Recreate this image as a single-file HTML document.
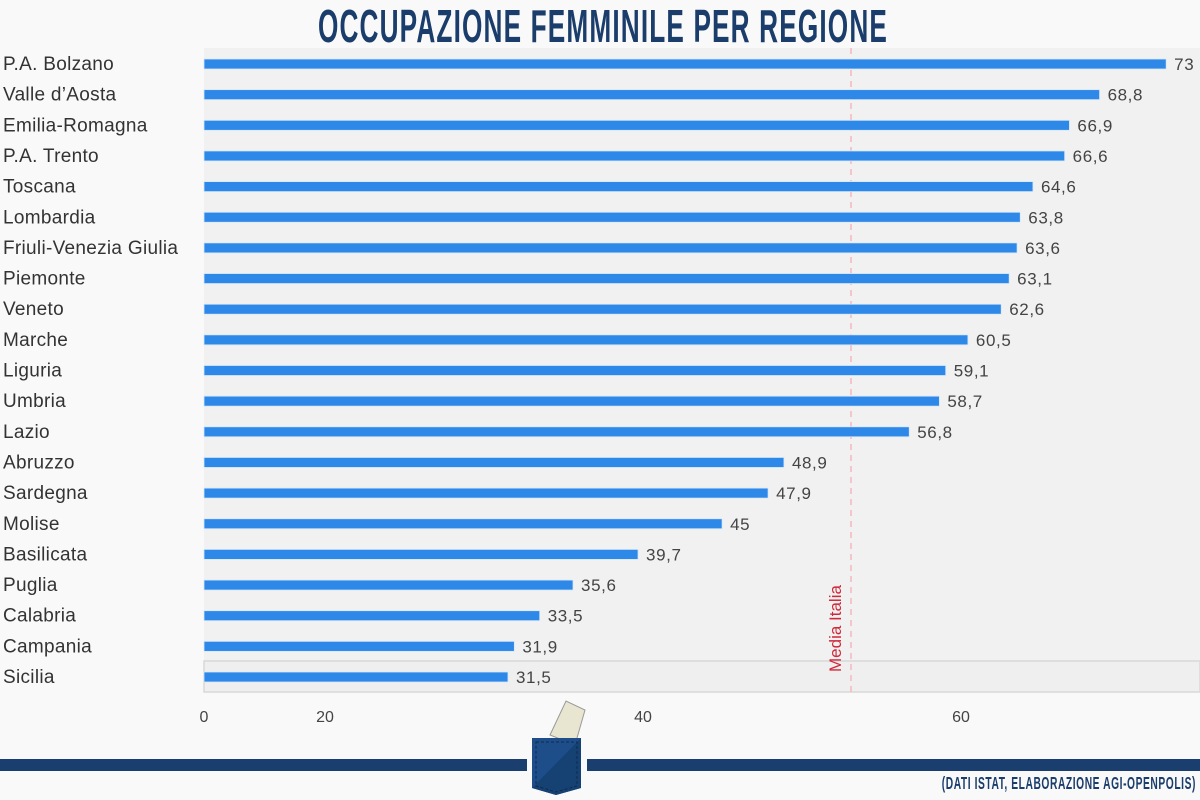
<!DOCTYPE html>
<html><head><meta charset="utf-8"><style>
html,body{margin:0;padding:0;background:#f9f9f9;width:1200px;height:800px;overflow:hidden}
svg text{font-family:"Liberation Sans",sans-serif}
</style></head><body>
<svg width="1200" height="800" xmlns="http://www.w3.org/2000/svg">
<rect width="1200" height="800" fill="#f9f9f9"/>
<text x="603" y="42" text-anchor="middle" font-size="46" font-weight="bold" fill="#1a3d6b" transform="translate(603 0) scale(0.57 1) translate(-603 0)" style="letter-spacing:2px">OCCUPAZIONE FEMMINILE PER REGIONE</text>
<rect x="204" y="48" width="996" height="644" fill="#f1f1f1"/>
<rect x="204" y="661" width="996" height="31" fill="#efefef" stroke="#d8d8d8" stroke-width="1.5"/>
<line x1="851" y1="48" x2="851" y2="692" stroke="#f5b8c0" stroke-width="1.5" stroke-dasharray="6,5"/>
<text transform="translate(841 672) rotate(-90)" font-size="17" fill="#d0283a">Media Italia</text>
<g id="bars"></g>
<g font-size="16" fill="#444">
<text x="204" y="722" text-anchor="middle">0</text>
<text x="325" y="722" text-anchor="middle">20</text>
<text x="643" y="722" text-anchor="middle">40</text>
<text x="961" y="722" text-anchor="middle">60</text>
</g>
<rect x="0" y="759" width="527" height="12" fill="#1a3f6f"/>
<rect x="587" y="759" width="613" height="12" fill="#1a3f6f"/>
<polygon points="550,735 566,701 585,710 575,745" fill="#e8e6d0" stroke="#999" stroke-width="1"/>
<polygon points="532,738 581,738 581,788 556,795 532,788" fill="#1d4e8a"/>
<polygon points="581,738 581,788 556,795 532,788" fill="#164173"/>
<polygon points="536,742 577,742 577,786 556,792 536,786" fill="none" stroke="#0e2a50" stroke-dasharray="3,2"/>
<text x="1196" y="789" text-anchor="end" font-size="18" font-weight="bold" fill="#1a3d6b" transform="translate(1196 0) scale(0.57 1) translate(-1196 0)" style="letter-spacing:1px">(DATI ISTAT, ELABORAZIONE AGI-OPENPOLIS)</text>
</svg>
<script>
var d=[["P.A. Bolzano",73],["Valle d'Aosta",68.8],["Emilia-Romagna",66.9],["P.A. Trento",66.6],["Toscana",64.6],["Lombardia",63.8],["Friuli-Venezia Giulia",63.6],["Piemonte",63.1],["Veneto",62.6],["Marche",60.5],["Liguria",59.1],["Umbria",58.7],["Lazio",56.8],["Abruzzo",48.9],["Sardegna",47.9],["Molise",45],["Basilicata",39.7],["Puglia",35.6],["Calabria",33.5],["Campania",31.9],["Sicilia",31.5]];
var g=document.getElementById("bars"),s="";
d.forEach(function(r,i){var y=64+30.65*i,x=8.4+r[1]*15.86;
s+='<rect x="204" y="'+(y-5)+'" width="'+(x-204)+'" height="10" fill="#2e88e8" stroke="#d6e8fa" stroke-width="0.8"/>';
s+='<text x="3" y="'+(y+6)+'" font-size="19" fill="#333" style="letter-spacing:0.3px">'+r[0].replace("'","&#8217;")+'</text>';
s+='<text x="'+(x+8)+'" y="'+(y+6)+'" font-size="17" fill="#444" style="letter-spacing:0.6px">'+String(r[1]).replace(".",",")+'</text>';});
g.innerHTML=s;
</script>
</body></html>
